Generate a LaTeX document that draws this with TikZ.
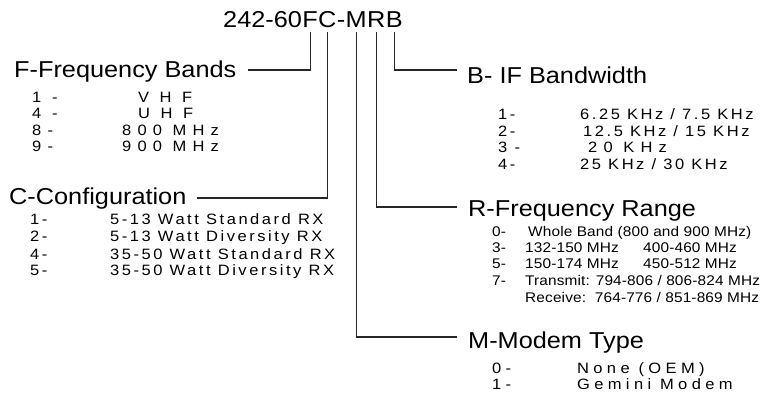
\documentclass[tikz,border=0pt]{standalone}
\usepackage{fontspec}
\setmainfont{Liberation Sans}
\newfontfamily\headfont{Liberation Sans}[FakeStretch=1.1]
\newfontfamily\bandfont{Liberation Sans}[FakeStretch=1.1,LetterSpace=41]
\newfontfamily\cfgfont{Liberation Sans}[FakeStretch=1.1,LetterSpace=17]
\newfontfamily\rangefont{Liberation Sans}[FakeStretch=1.1,LetterSpace=1]
\newfontfamily\modemfont{Liberation Sans}[FakeStretch=1.1,LetterSpace=29]
\usetikzlibrary{positioning}

\begin{document}
\begin{tikzpicture}[x=1pt, y=-1pt,
  codeL/.style={inner sep=0pt, anchor=base west, font=\headfont\fontsize{23}{27}\selectfont},
  headN/.style={inner sep=0pt, anchor=base west, font=\headfont\fontsize{23}{27}\selectfont},
  bandN/.style={inner sep=0pt, anchor=base west, font=\bandfont\fontsize{15}{17}\selectfont},
  cfgN/.style={inner sep=0pt, anchor=base west, font=\cfgfont\fontsize{15}{17}\selectfont},
  rangeN/.style={inner sep=0pt, anchor=base west, font=\rangefont\fontsize{14}{16}\selectfont},
  modemN/.style={inner sep=0pt, anchor=base west, font=\modemfont\fontsize{15}{17}\selectfont},
  lead/.style={line width=1.2pt, black!85}
]
\useasboundingbox (0,0) rectangle (766,398);
% Model code
\node[codeL] (cpre) at (223,28) {242-60};
\node[codeL, base right=0pt of cpre] (cF) {F};
\node[codeL, base right=0pt of cF] (cC) {C};
\node[codeL, base right=0pt of cC] (cdash) {-};
\node[codeL, base right=0pt of cdash] (cM) {M};
\node[codeL, base right=0pt of cM] (cR) {R};
\node[codeL, base right=0pt of cR] (cB) {B};
% Headings
\node[headN] (fhead) at (14,78) {F-Frequency Bands};
\node[headN] (chead) at (9,205) {C-Configuration};
\node[headN] (bhead) at (467,84) {B- IF Bandwidth};
\node[headN] (rhead) at (468,217) {R-Frequency Range};
\node[headN] (mhead) at (468,348) {M-Modem Type};
% F list
\node[bandN] (f1) at (32,103) {1 -};
\node[bandN] (f1t) at (138,103) {\addfontfeature{LetterSpace=70}VHF};
\node[bandN] (f4) at (32,119) {4 -};
\node[bandN] (f4t) at (138,119) {\addfontfeature{LetterSpace=70}UHF};
\node[bandN] (f8) at (32,136) {8-};
\node[bandN] (f8t) at (122,136) {800 MHz};
\node[bandN] (f9) at (32,152) {9-};
\node[bandN] (f9t) at (122,152) {900 MHz};
% C list
\node[cfgN] (c1) at (30,225) {1-};
\node[cfgN] (c1t) at (110,225) {5-13 Watt Standard RX};
\node[cfgN] (c2) at (30,242) {2-};
\node[cfgN] (c2t) at (110,242) {5-13 Watt Diversity RX};
\node[cfgN] (c4) at (30,259) {4-};
\node[cfgN] (c4t) at (110,259) {35-50 Watt Standard RX};
\node[cfgN] (c5) at (30,276) {5-};
\node[cfgN] (c5t) at (110,276) {35-50 Watt Diversity RX};
% B list
\node[cfgN] (b1) at (498,120) {1-};
\node[cfgN] (b1t) at (580,120) {6.25 KHz / 7.5 KHz};
\node[cfgN] (b2) at (498,137) {2-};
\node[cfgN] (b2t) at (583,137) {12.5 KHz / 15 KHz};
\node[cfgN] (b3) at (498,153) {3 -};
\node[bandN] (b3t) at (588,153) {20 KHz};
\node[cfgN] (b4) at (498,170) {4-};
\node[cfgN] (b4t) at (580,170) {25 KHz / 30 KHz};
% R list
\node[rangeN] (r0) at (492,237) {0-};
\node[rangeN] (r0t) at (528,237) {Whole Band (800 and 900 MHz)};
\node[rangeN] (r3) at (492,253) {3-};
\node[rangeN] (r3t) at (525,253) {132-150 MHz};
\node[rangeN] (r3u) at (643,253) {400-460 MHz};
\node[rangeN] (r5) at (492,269) {5-};
\node[rangeN] (r5t) at (525,269) {150-174 MHz};
\node[rangeN] (r5u) at (643,269) {450-512 MHz};
\node[rangeN] (r7) at (492,285) {7-};
\node[rangeN] (r7t) at (525,285) {Transmit: 794-806 / 806-824 MHz};
\node[rangeN] (r7u) at (525,302) {Receive:\ \ 764-776 / 851-869 MHz};
% M list
\node[modemN] (m0) at (492,373) {0-};
\node[modemN] (m0t) at (577,373) {None (OEM)};
\node[modemN] (m1) at (492,389) {1-};
\node[modemN] (m1t) at (577,389) {Gemini Modem};
% Leader lines
\draw[lead] ([yshift=-4pt]cF.south) |- ([xshift=11pt,yshift=8pt]fhead.base east);
\draw[lead] ([yshift=-4pt]cC.south) |- ([xshift=10pt,yshift=7pt]chead.base east);
\draw[lead] ([yshift=-4pt]cM.south) |- ([xshift=-11pt,yshift=11pt]mhead.base west);
\draw[lead] ([yshift=-4pt]cR.south) |- ([xshift=-11pt,yshift=10pt]rhead.base west);
\draw[lead] ([yshift=-4pt]cB.south) |- ([xshift=-10pt,yshift=14pt]bhead.base west);
\end{tikzpicture}
\end{document}
